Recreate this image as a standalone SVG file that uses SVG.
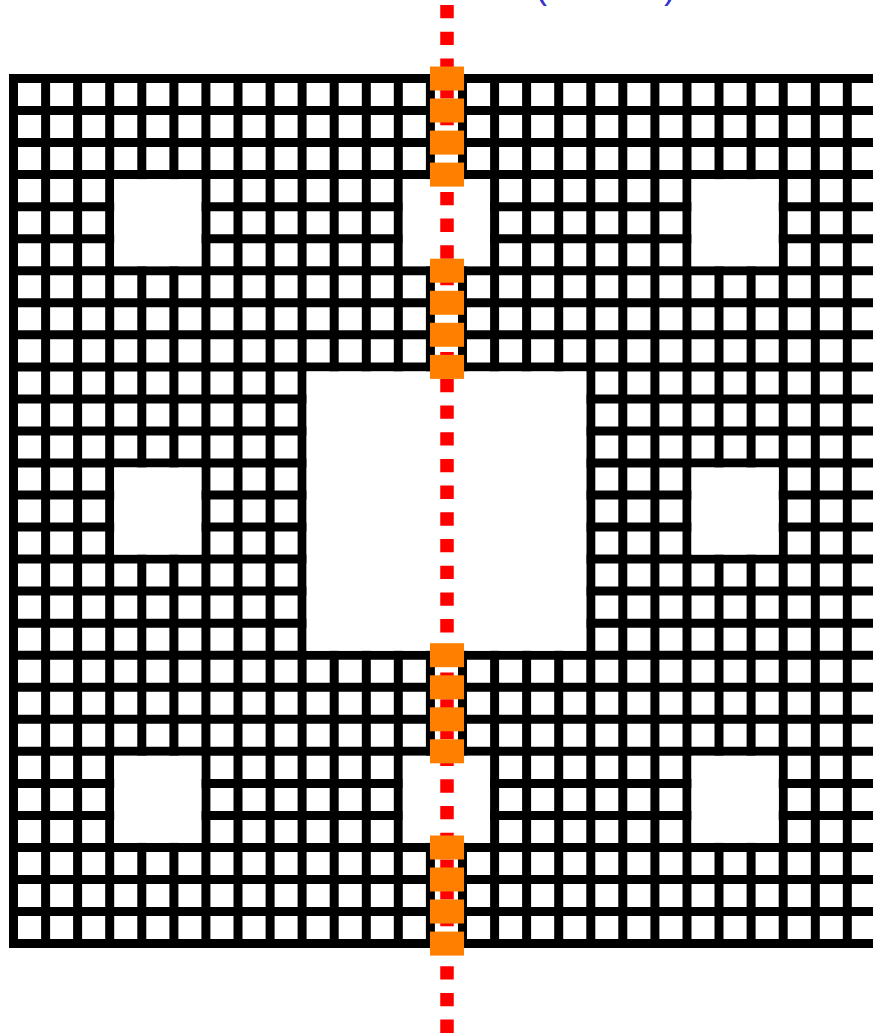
<svg xmlns="http://www.w3.org/2000/svg" width="873" height="1034" viewBox="0 0 873 1034">
<style>
.grid{stroke:#000;stroke-width:9;fill:none;stroke-linecap:square}
.hole{fill:#fff}
.cut{stroke:#ff0000;stroke-width:13.5;stroke-dasharray:13.35 13.35;fill:none}
.hit{fill:#ff8000}
.lbl{font-family:"Liberation Sans",Arial,sans-serif;font-size:36px;fill:#3333cc}
</style>
<rect width="873" height="1034" fill="#fff"/>
<g id="title">
<text class="lbl" x="535" y="-2">(</text>
<text class="lbl" x="664" y="-2">)</text>
</g>
<g id="carpet">
<path class="grid" d="M13.5 78.5V943.6M45.6 78.5V943.6M77.6 78.5V943.6M109.7 78.5V943.6M141.8 78.5V943.6M173.9 78.5V943.6M205.9 78.5V943.6M238 78.5V943.6M270.1 78.5V943.6M302.1 78.5V943.6M334.2 78.5V943.6M366.3 78.5V943.6M398.3 78.5V943.6M430.4 78.5V943.6M462.5 78.5V943.6M494.6 78.5V943.6M526.6 78.5V943.6M558.7 78.5V943.6M590.8 78.5V943.6M622.8 78.5V943.6M654.9 78.5V943.6M687 78.5V943.6M719 78.5V943.6M751.1 78.5V943.6M783.2 78.5V943.6M815.3 78.5V943.6M847.3 78.5V943.6M879.4 78.5V943.6"/>
<path class="grid" d="M13.5 78.5H880M13.5 110.5H880M13.5 142.6H880M13.5 174.6H880M13.5 206.7H880M13.5 238.7H880M13.5 270.7H880M13.5 302.8H880M13.5 334.8H880M13.5 366.9H880M13.5 398.9H880M13.5 430.9H880M13.5 463H880M13.5 495H880M13.5 527.1H880M13.5 559.1H880M13.5 591.1H880M13.5 623.2H880M13.5 655.2H880M13.5 687.3H880M13.5 719.3H880M13.5 751.3H880M13.5 783.4H880M13.5 815.4H880M13.5 847.5H880M13.5 879.5H880M13.5 911.5H880M13.5 943.6H880"/>
<rect class="hole" x="306.6" y="371.4" width="279.7" height="279.4"/>
<rect class="hole" x="114.2" y="179.1" width="87.2" height="87.1"/>
<rect class="hole" x="402.8" y="179.1" width="87.2" height="87.1"/>
<rect class="hole" x="691.5" y="179.1" width="87.2" height="87.1"/>
<rect class="hole" x="114.2" y="467.5" width="87.2" height="87.1"/>
<rect class="hole" x="691.5" y="467.5" width="87.2" height="87.1"/>
<rect class="hole" x="114.2" y="755.8" width="87.2" height="87.1"/>
<rect class="hole" x="402.8" y="755.8" width="87.2" height="87.1"/>
<rect class="hole" x="691.5" y="755.8" width="87.2" height="87.1"/>
</g>
<g id="cutline">
<line class="cut" x1="447" y1="5" x2="447" y2="1040"/>
</g>
<g id="intersections">
<rect class="hit" x="430" y="66.5" width="34" height="24"/>
<rect class="hit" x="430" y="98.5" width="34" height="24"/>
<rect class="hit" x="430" y="130.6" width="34" height="24"/>
<rect class="hit" x="430" y="162.6" width="34" height="24"/>
<rect class="hit" x="430" y="258.7" width="34" height="24"/>
<rect class="hit" x="430" y="290.8" width="34" height="24"/>
<rect class="hit" x="430" y="322.8" width="34" height="24"/>
<rect class="hit" x="430" y="354.9" width="34" height="24"/>
<rect class="hit" x="430" y="643.2" width="34" height="24"/>
<rect class="hit" x="430" y="675.3" width="34" height="24"/>
<rect class="hit" x="430" y="707.3" width="34" height="24"/>
<rect class="hit" x="430" y="739.3" width="34" height="24"/>
<rect class="hit" x="430" y="835.5" width="34" height="24"/>
<rect class="hit" x="430" y="867.5" width="34" height="24"/>
<rect class="hit" x="430" y="899.5" width="34" height="24"/>
<rect class="hit" x="430" y="931.6" width="34" height="24"/>
</g>
</svg>
